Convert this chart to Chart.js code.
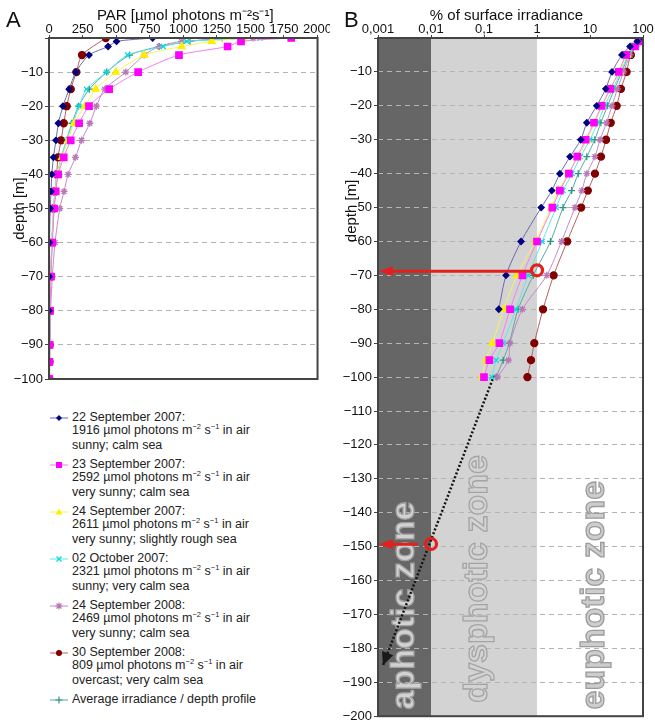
<!DOCTYPE html>
<html>
<head>
<meta charset="utf-8">
<script src="https://cdn.jsdelivr.net/npm/chart.js@4.4.0/dist/chart.umd.min.js"></script>
<style>
  body { margin: 0; background: #fff; font-family: "Liberation Sans", Arial, sans-serif; }
  #wrap { position: relative; width: 655px; height: 726px; overflow: hidden; }
  #chartA { position: absolute; left: 0; top: 0; }
  #chartB { position: absolute; left: 330px; top: 0; }
  #legend { position: absolute; left: 50px; top: 411px; font-size: 12.5px; line-height: 13.4px; color: #222; }
  .item { display: flex; align-items: flex-start; margin-bottom: 5.8px; }
  .item svg { flex: none; margin-top: 2px; margin-right: 4px; }
  .sup { font-size: 7.5px; position: relative; top: -5px; }
</style>
</head>
<body>
<div id="wrap">
  <canvas id="chartA" width="330" height="395"></canvas>
  <canvas id="chartB" width="325" height="726"></canvas>
  <div id="legend"></div>
</div>
<script>
// depths [m]
var depthFull = [0, -1, -2.5, -5, -10, -15, -20, -25, -30, -35, -40, -45, -50, -60, -70, -80, -90, -95, -100];
var depthBlue = [0, -1, -2.5, -5, -10, -15, -20, -25, -30, -35, -40, -45, -50, -60, -70, -80];
var depthRed = [0, -5, -10, -15, -20, -25, -30, -35, -40, -45, -50, -60, -70, -80, -90, -95, -100];

// panel A: PAR [µmol photons m-2 s-1]
var parSep22_07 = [772, 503, 440, 298, 200, 150, 104, 70, 52, 33, 21, 15, 9, 4, 2, 1.5];
var parSep23_07 = [1804, 1430, 1330, 968, 664, 448, 298, 224, 162, 110, 68, 50, 38, 24, 15, 8, 5, 3, 2];
var parSep24_07 = [1448, 1212, 988, 709, 498, 348, 266, 187, 142, 97, 62, 48, 36, 22, 13, 6, 3, 2, 1.5];
var parOct02_07 = [1573, 1025, 851, 585, 428, 279, 224, 179, 130, 92, 60, 45, 34, 20, 12, 7, 4, 3, 2];
var parSep24_08 = [1520, 988, 821, 709, 572, 415, 353, 304, 242, 197, 142, 112, 80, 45, 25, 12, 7, 6, 4];
var parSep30_08 = [423, 246, 204, 162, 132, 110, 90, 67, 57, 45, 35, 22, 12, 8, 5, 4, 3];
var parAverage = [1290, 1050, 820, 600, 430, 300, 220, 170, 130, 93, 65, 50, 38, 24, 13, 8, 5, 4, 3];

// panel B: % of surface irradiance
var pctSep22_07 = [100, 78, 57, 40, 26, 19.8, 13.4, 8.7, 6.7, 4.2, 2.7, 1.9, 1.2, 0.5, 0.26, 0.19];
var pctSep23_07 = [100, 82, 71, 48, 35, 24, 16.6, 11.9, 8.3, 5.75, 4.0, 2.7, 1.95, 1.0, 0.53, 0.31, 0.195, 0.126, 0.1];
var pctSep24_07 = [100, 86, 70, 50, 36.5, 24.5, 17, 12.3, 8.7, 6.0, 3.9, 2.55, 1.85, 0.93, 0.42, 0.235, 0.144, 0.109, 0.091];
var pctOct02_07 = [100, 90, 75, 53, 38, 27, 19, 14, 10, 6.6, 4.6, 3.1, 2.3, 1.25, 0.68, 0.40, 0.23, 0.17, 0.14];
var pctSep24_08 = [100, 90, 72, 57, 43, 33, 26, 20.5, 15.5, 12.4, 8.7, 7.0, 5.2, 2.9, 1.53, 0.53, 0.31, 0.29, 0.18];
var pctSep30_08 = [100, 59, 49, 38.4, 31.9, 24.6, 20.1, 16.1, 12.4, 9.1, 6.8, 3.7, 2.06, 1.3, 0.89, 0.77, 0.66];
var pctAverage = [100, 88, 74, 54, 40, 29, 21.5, 16, 12.3, 8.7, 6.0, 4.5, 3.1, 1.8, 0.85, 0.44, 0.30, 0.23, 0.17];

// extrapolated profile (dotted arrow) and the marked depths
var extraPct = [0.155, 0.00124];
var extraDepth = [-99.5, -185];
var redCirclePct = [1, 0.01];
var redCircleDepth = [-68.5, -149.2];
var redArrowFromPct = [0.78, 0.0056];
var redArrowToPct = [0.00104, 0.00104];
var redArrowDepth = [-68.8, -149.3];

// light zones
var zoneEdges = [0.001, 0.01, 1, 100];
var zoneNames = ['aphotic zone', 'dysphotic zone', 'euphotic zone'];
var zoneLabelPct = [0.0032, 0.075, 12];
var zoneLabelDepth = [-198, -196, -198];

var xTicksA = [0, 250, 500, 750, 1000, 1250, 1500, 1750, 2000];
var xTicksB = [0.001, 0.01, 0.1, 1, 10, 100];
var xTickLabelsB = ['0,001', '0,01', '0,1', '1', '10', '100'];

// legend
var seriesDates = ['22 September 2007:', '23 September 2007:', '24 September 2007:', '02 October 2007:', '24 September 2008:', '30 September 2008:', 'Average irradiance / depth profile'];
var seriesAirPar = [1916, 2592, 2611, 2321, 2469, 809, null];
var seriesWeather = ['sunny; calm sea', 'very sunny; calm sea', 'very sunny; slightly rough sea', 'sunny; very calm sea', 'very sunny; calm sea', 'overcast; very calm sea', null];

var lineColors = ['#6a6aae', '#f27cf2', '#f4f45a', '#5fe6e6', '#c48ac4', '#b36060', '#55aaa4'];
var markColors = ['#000080', '#ff00ff', '#ffee00', '#00dcdc', '#b878b8', '#800000', '#2e9488'];
var markStyles = ['rectRot', 'rect', 'triangle', 'crossRot', 'star', 'circle', 'cross'];
var markSizes = [3, 4.5, 4, 3.5, 3.5, 3.5, 3.5];

function pts(xs, ys) {
  return xs.map(function (v, i) { return { x: v, y: ys[i] }; });
}

function makeSets(vals) {
  var depths = [depthBlue, depthFull, depthFull, depthFull, depthFull, depthRed, depthFull];
  return vals.map(function (v, i) {
    return {
      label: seriesDates[i],
      data: pts(v, depths[i]),
      borderColor: lineColors[i],
      borderWidth: 1,
      tension: 0.25,
      pointStyle: markStyles[i],
      pointRadius: markSizes[i],
      pointBackgroundColor: markColors[i],
      pointBorderColor: markColors[i],
      pointBorderWidth: 1.3
    };
  });
}

function minusLabel(v) {
  if (v === 0) return '';
  return '\u2212' + Math.abs(v);
}

// frame, titles, panel letters
var panelText = {
  id: 'panelText',
  afterDraw: function (chart, args, o) {
    var ctx = chart.ctx, a = chart.chartArea;
    ctx.save();
    ctx.strokeStyle = '#444';
    ctx.lineWidth = 2;
    ctx.strokeRect(a.left, a.top, a.right - a.left, a.bottom - a.top);
    ctx.fillStyle = '#111';
    ctx.font = '22px "Liberation Sans", Arial, sans-serif';
    ctx.textAlign = 'left';
    ctx.textBaseline = 'alphabetic';
    ctx.fillText(o.letter, o.letterX, 27);
    ctx.font = '15px "Liberation Sans", Arial, sans-serif';
    ctx.textAlign = 'center';
    ctx.fillText(o.xTitle, (a.left + a.right) / 2 + o.xTitleShift, 20);
    ctx.translate(o.yTitleX, chart.scales.y.getPixelForValue(o.yTitleDepth));
    ctx.rotate(-Math.PI / 2);
    ctx.textBaseline = 'middle';
    ctx.fillText('depth [m]', 0, 0);
    ctx.restore();
  }
};

// light zone backgrounds
var zoneBands = {
  id: 'zoneBands',
  beforeDraw: function (chart) {
    var ctx = chart.ctx, a = chart.chartArea, x = chart.scales.x;
    var cols = ['#666666', '#d3d3d3', '#ffffff'];
    ctx.save();
    for (var i = 0; i < 3; i++) {
      var x0 = x.getPixelForValue(zoneEdges[i]);
      var x1 = x.getPixelForValue(zoneEdges[i + 1]);
      ctx.fillStyle = cols[i];
      ctx.fillRect(x0, a.top, x1 - x0, a.bottom - a.top);
    }
    ctx.restore();
  },
  beforeDatasetsDraw: function (chart) {
    var ctx = chart.ctx, x = chart.scales.x, y = chart.scales.y;
    var fills = ['#d2d2d2', '#d3d3d3', '#cdcdcd'];
    var strokes = ['#a0a0a0', '#a4a4a4', '#9c9c9c'];
    ctx.save();
    ctx.font = 'bold 34px "Liberation Sans", Arial, sans-serif';
    ctx.textAlign = 'left';
    ctx.textBaseline = 'middle';
    ctx.lineWidth = 1.3;
    for (var i = 0; i < 3; i++) {
      ctx.save();
      ctx.translate(x.getPixelForValue(zoneLabelPct[i]), y.getPixelForValue(zoneLabelDepth[i]));
      ctx.rotate(-Math.PI / 2);
      ctx.fillStyle = fills[i];
      ctx.fillText(zoneNames[i], 0, 0);
      ctx.strokeStyle = strokes[i];
      ctx.strokeText(zoneNames[i], 0, 0);
      ctx.restore();
    }
    ctx.restore();
  },
  afterDraw: function (chart) {
    var ctx = chart.ctx, x = chart.scales.x, y = chart.scales.y;
    ctx.save();
    // arrow head of the extrapolated profile
    var px0 = x.getPixelForValue(extraPct[0]), py0 = y.getPixelForValue(extraDepth[0]);
    var px1 = x.getPixelForValue(extraPct[1]), py1 = y.getPixelForValue(extraDepth[1]);
    var ang = Math.atan2(py1 - py0, px1 - px0);
    ctx.fillStyle = '#1a1a1a';
    ctx.beginPath();
    ctx.moveTo(px1, py1);
    ctx.lineTo(px1 - 13 * Math.cos(ang) + 6 * Math.sin(ang), py1 - 13 * Math.sin(ang) - 6 * Math.cos(ang));
    ctx.lineTo(px1 - 13 * Math.cos(ang) - 6 * Math.sin(ang), py1 - 13 * Math.sin(ang) + 6 * Math.cos(ang));
    ctx.closePath();
    ctx.fill();
    // red arrows and circles
    ctx.strokeStyle = '#e3201c';
    ctx.fillStyle = '#e3201c';
    for (var i = 0; i < 2; i++) {
      var ay = y.getPixelForValue(redArrowDepth[i]);
      var ax0 = x.getPixelForValue(redArrowFromPct[i]);
      var ax1 = x.getPixelForValue(redArrowToPct[i]);
      ctx.lineWidth = 3;
      ctx.beginPath();
      ctx.moveTo(ax0, ay);
      ctx.lineTo(ax1 + 12, ay);
      ctx.stroke();
      ctx.beginPath();
      ctx.moveTo(ax1, ay);
      ctx.lineTo(ax1 + 14, ay - 5);
      ctx.lineTo(ax1 + 14, ay + 5);
      ctx.closePath();
      ctx.fill();
      ctx.lineWidth = 3.2;
      ctx.beginPath();
      ctx.arc(x.getPixelForValue(redCirclePct[i]), y.getPixelForValue(redCircleDepth[i]), 5.5, 0, Math.PI * 2);
      ctx.stroke();
    }
    ctx.restore();
  }
};

var tickFont = { family: '"Liberation Sans", Arial, sans-serif', size: 13 };

function yScale(min, leftWidth) {
  return {
    type: 'linear', min: min, max: 0,
    ticks: { stepSize: 10, color: '#111', font: tickFont, padding: 2, callback: minusLabel, autoSkip: false },
    grid: { color: '#b4b4b4', lineWidth: 1, tickLength: 4, tickColor: '#444', tickBorderDash: [], tickWidth: 1 },
    border: { display: false, dash: [5, 4] },
    afterFit: function (s) { s.width = leftWidth; }
  };
}

new Chart(document.getElementById('chartA'), {
  type: 'line',
  data: { datasets: makeSets([parSep22_07, parSep23_07, parSep24_07, parOct02_07, parSep24_08, parSep30_08, parAverage]) },
  options: {
    responsive: false,
    animation: false,
    layout: { padding: { left: 0, right: 12, top: 0, bottom: 16 } },
    plugins: {
      legend: { display: false },
      tooltip: { enabled: false },
      panelText: { letter: 'A', letterX: 6, xTitle: 'PAR [\u00b5mol photons m\u207b\u00b2s\u207b\u00b9]', xTitleShift: 2, yTitleX: 20, yTitleDepth: -50 }
    },
    scales: {
      x: {
        type: 'linear', position: 'top', min: 0, max: 2000,
        afterBuildTicks: function (s) { s.ticks = xTicksA.map(function (v) { return { value: v }; }); },
        ticks: { color: '#111', font: tickFont, padding: -2, autoSkip: false, maxRotation: 0, callback: function (v) { return String(v); } },
        grid: { drawOnChartArea: false, tickLength: 3, color: '#444' },
        border: { display: false },
        afterFit: function (s) { s.height = 38; }
      },
      y: yScale(-100, 49)
    }
  },
  plugins: [panelText]
});

var setsB = makeSets([pctSep22_07, pctSep23_07, pctSep24_07, pctOct02_07, pctSep24_08, pctSep30_08, pctAverage]);
setsB.push({
  label: 'extrapolation',
  data: pts(extraPct, extraDepth),
  borderColor: '#141414',
  borderWidth: 2.5,
  borderDash: [2, 2],
  pointRadius: 0,
  tension: 0
});

new Chart(document.getElementById('chartB'), {
  type: 'line',
  data: { datasets: setsB },
  options: {
    responsive: false,
    animation: false,
    layout: { padding: { left: 0, right: 12, top: 0, bottom: 7 } },
    plugins: {
      legend: { display: false },
      tooltip: { enabled: false },
      panelText: { letter: 'B', letterX: 14, xTitle: '% of surface irradiance', xTitleShift: -4, yTitleX: 22, yTitleDepth: -51 }
    },
    scales: {
      x: {
        type: 'logarithmic', position: 'top', min: 0.001, max: 100,
        afterBuildTicks: function (s) { s.ticks = xTicksB.map(function (v) { return { value: v }; }); },
        ticks: {
          color: '#111', font: tickFont, padding: -2, autoSkip: false, maxRotation: 0,
          callback: function (v, i) { return xTickLabelsB[i]; }
        },
        grid: { drawOnChartArea: false, tickLength: 3, color: '#444' },
        border: { display: false },
        afterFit: function (s) { s.height = 38; }
      },
      y: yScale(-200, 48)
    }
  },
  plugins: [zoneBands, panelText]
});

// legend with line + marker swatches
function swatch(i) {
  var c = markColors[i], l = lineColors[i], s = markStyles[i], m = '';
  if (s === 'rectRot') m = '<polygon points="9,2 12,5 9,8 6,5" fill="' + c + '"/>';
  if (s === 'rect') m = '<rect x="6" y="2" width="6" height="6" fill="' + c + '"/>';
  if (s === 'triangle') m = '<polygon points="9,1.5 12.5,7.5 5.5,7.5" fill="' + c + '"/>';
  if (s === 'crossRot') m = '<path d="M6.5,2.5L11.5,7.5M11.5,2.5L6.5,7.5" stroke="' + c + '" stroke-width="1.3"/>';
  if (s === 'star') m = '<path d="M6.5,2.5L11.5,7.5M11.5,2.5L6.5,7.5M9,1.5L9,8.5M5.5,5L12.5,5" stroke="' + c + '" stroke-width="1.1"/>';
  if (s === 'circle') m = '<circle cx="9" cy="5" r="3" fill="' + c + '"/>';
  if (s === 'cross') m = '<path d="M9,1.5L9,8.5M5.5,5L12.5,5" stroke="' + c + '" stroke-width="1.2"/>';
  return '<svg width="18" height="10"><line x1="0" y1="5" x2="18" y2="5" stroke="' + l + '" stroke-width="1"/>' + m + '</svg>';
}

var html = '';
for (var i = 0; i < seriesDates.length; i++) {
  var txt = seriesDates[i];
  if (seriesAirPar[i] !== null) {
    txt += '<br>' + seriesAirPar[i] + ' \u00b5mol photons m<span class="sup">\u22122</span> s<span class="sup">\u22121</span> in air<br>' + seriesWeather[i];
  }
  html += '<div class="item">' + swatch(i) + '<div>' + txt + '</div></div>';
}
document.getElementById('legend').innerHTML = html;
</script>
</body>
</html>
